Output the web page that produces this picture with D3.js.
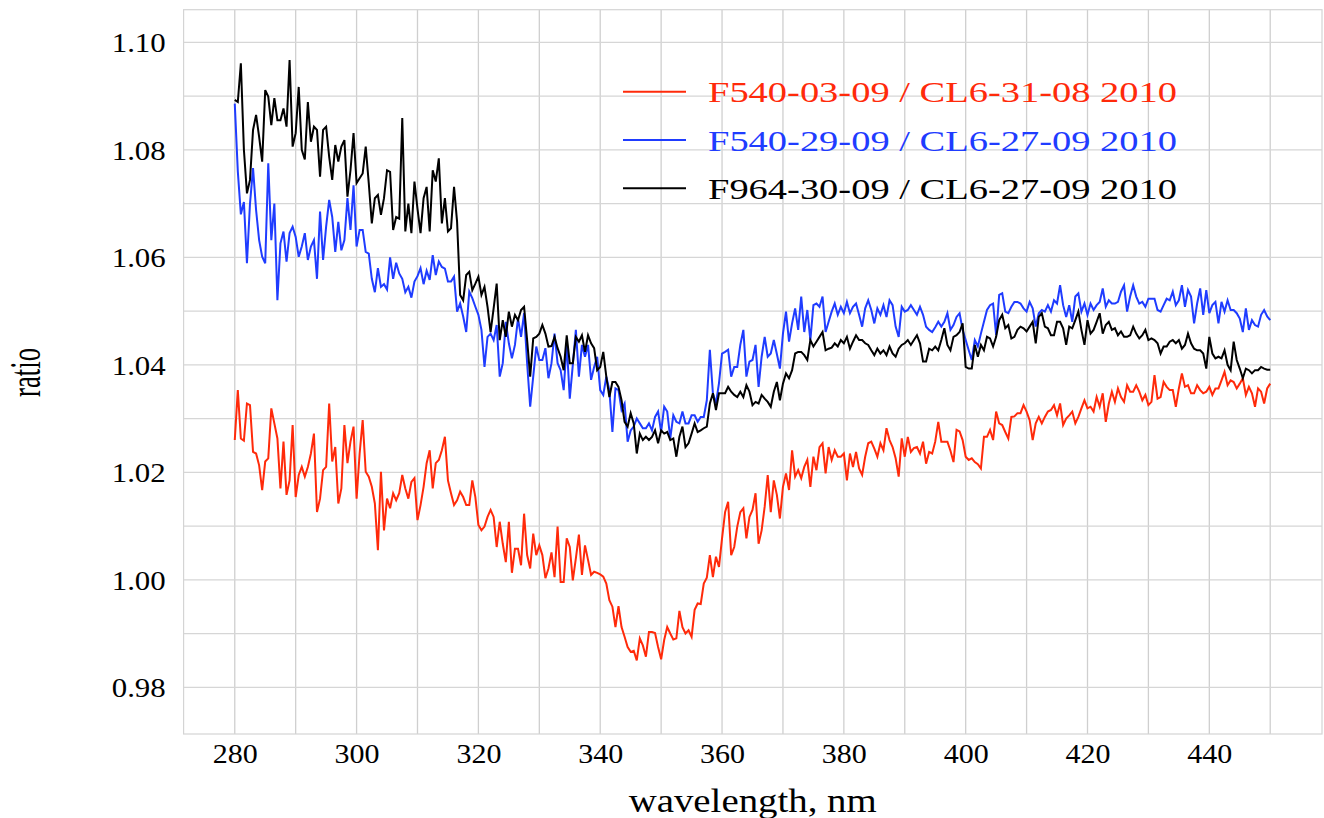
<!DOCTYPE html>
<html>
<head>
<meta charset="utf-8">
<script src="https://cdn.jsdelivr.net/npm/d3@7"></script>
<style>
  body { margin: 0; background: #ffffff; }
  svg { display: block; }
  text { font-family: "Liberation Serif", "Times New Roman", serif; }
</style>
</head>
<body>
<svg id="chart" width="1324" height="818"></svg>
<script>
// Spectral sampling: first wavelength and step, nm
const startNm = 280;
const stepNm = 0.5;

// Ratio F540-03-09 / CL6-31-08 2010
const ratioF540_0309 = [
  1.0260,1.0353,1.0263,1.0259,1.0328,1.0325,1.0238,1.0235,1.0213,1.0167,
  1.0220,1.0226,1.0319,1.0291,1.0263,1.0170,1.0257,1.0158,1.0185,1.0288,
  1.0154,1.0195,1.0210,1.0192,1.0210,1.0235,1.0272,1.0126,1.0151,1.0204,
  1.0210,1.0328,1.0220,1.0247,1.0142,1.0170,1.0288,1.0217,1.0257,1.0285,
  1.0151,1.0235,1.0297,1.0201,1.0192,1.0173,1.0142,1.0055,1.0201,1.0092,
  1.0151,1.0133,1.0161,1.0148,1.0161,1.0195,1.0170,1.0151,1.0182,1.0189,
  1.0111,1.0139,1.0173,1.0217,1.0241,1.0170,1.0217,1.0223,1.0241,1.0266,
  1.0185,1.0161,1.0139,1.0148,1.0164,1.0154,1.0139,1.0139,1.0185,1.0154,
  1.0102,1.0092,1.0099,1.0117,1.0130,1.0117,1.0061,1.0108,1.0067,1.0033,
  1.0108,1.0013,1.0058,1.0058,1.0027,1.0123,1.0046,1.0021,1.0086,1.0046,
  1.0064,1.0046,1.0003,1.0021,1.0051,1.0005,1.0099,0.9996,0.9996,1.0077,
  1.0061,0.9999,1.0040,1.0084,1.0009,1.0064,1.0037,1.0009,1.0015,1.0013,
  1.0010,1.0006,0.9993,0.9962,0.9950,0.9912,0.9951,0.9912,0.9894,0.9875,
  0.9866,0.9868,0.9850,0.9891,0.9878,0.9857,0.9903,0.9903,0.9901,0.9875,
  0.9852,0.9888,0.9912,0.9900,0.9889,0.9891,0.9942,0.9912,0.9900,0.9906,
  0.9894,0.9944,0.9956,0.9955,0.9993,1.0004,1.0046,1.0005,1.0043,1.0024,
  1.0077,1.0126,1.0145,1.0046,1.0061,1.0099,1.0126,1.0133,1.0077,1.0117,
  1.0130,1.0161,1.0067,1.0092,1.0136,1.0195,1.0126,1.0185,1.0158,1.0114,
  1.0173,1.0198,1.0167,1.0241,1.0192,1.0204,1.0189,1.0210,1.0223,1.0173,
  1.0229,1.0204,1.0247,1.0254,1.0198,1.0247,1.0223,1.0241,1.0229,1.0229,
  1.0235,1.0185,1.0235,1.0210,1.0238,1.0207,1.0195,1.0229,1.0254,1.0257,
  1.0244,1.0229,1.0254,1.0241,1.0282,1.0260,1.0247,1.0226,1.0192,1.0263,
  1.0229,1.0266,1.0238,1.0245,1.0247,1.0235,1.0257,1.0216,1.0238,1.0235,
  1.0257,1.0294,1.0257,1.0257,1.0257,1.0240,1.0219,1.0279,1.0276,1.0260,
  1.0229,1.0223,1.0226,1.0219,1.0215,1.0207,1.0266,1.0266,1.0279,1.0260,
  1.0313,1.0291,1.0288,1.0275,1.0263,1.0303,1.0304,1.0310,1.0310,1.0325,
  1.0313,1.0297,1.0260,1.0291,1.0303,1.0291,1.0303,1.0313,1.0316,1.0325,
  1.0306,1.0328,1.0288,1.0300,1.0306,1.0313,1.0291,1.0303,1.0319,1.0334,
  1.0319,1.0322,1.0313,1.0340,1.0322,1.0347,1.0294,1.0328,1.0350,1.0331,
  1.0356,1.0340,1.0331,1.0362,1.0350,1.0350,1.0362,1.0350,1.0334,1.0344,
  1.0325,1.0331,1.0381,1.0337,1.0340,1.0368,1.0359,1.0353,1.0353,1.0322,
  1.0356,1.0384,1.0359,1.0362,1.0347,1.0347,1.0362,1.0353,1.0347,1.0350,
  1.0359,1.0344,1.0356,1.0356,1.0371,1.0387,1.0362,1.0371,1.0368,1.0356,
  1.0365,1.0375,1.0344,1.0359,1.0347,1.0322,1.0356,1.0350,1.0328,1.0356,
  1.0365
];

// Ratio F540-29-09 / CL6-27-09 2010
const ratioF540_2909 = [
  1.0886,1.0760,1.0680,1.0703,1.0589,1.0700,1.0766,1.0688,1.0632,1.0601,
  1.0589,1.0775,1.0632,1.0700,1.0520,1.0626,1.0648,1.0592,1.0645,1.0657,
  1.0638,1.0601,1.0620,1.0645,1.0595,1.0620,1.0632,1.0560,1.0685,1.0595,
  1.0657,1.0707,1.0675,1.0610,1.0666,1.0613,1.0632,1.0710,1.0651,1.0734,
  1.0620,1.0651,1.0651,1.0610,1.0607,1.0560,1.0535,1.0580,1.0545,1.0550,
  1.0540,1.0600,1.0560,1.0590,1.0570,1.0560,1.0535,1.0545,1.0525,1.0555,
  1.0565,1.0580,1.0550,1.0575,1.0558,1.0604,1.0567,1.0592,1.0582,1.0579,
  1.0555,1.0555,1.0564,1.0499,1.0514,1.0490,1.0461,1.0536,1.0524,1.0508,
  1.0493,1.0465,1.0396,1.0452,1.0458,1.0446,1.0474,1.0378,1.0403,1.0480,
  1.0440,1.0412,1.0437,1.0486,1.0452,1.0496,1.0403,1.0322,1.0378,1.0434,
  1.0409,1.0409,1.0431,1.0375,1.0403,1.0458,1.0403,1.0390,1.0353,1.0440,
  1.0337,1.0400,1.0465,1.0378,1.0437,1.0415,1.0437,1.0372,1.0396,1.0415,
  1.0353,1.0344,1.0378,1.0353,1.0275,1.0356,1.0353,1.0316,1.0328,1.0257,
  1.0278,1.0285,1.0300,1.0291,1.0282,1.0282,1.0291,1.0278,1.0303,1.0313,
  1.0275,1.0322,1.0313,1.0263,1.0306,1.0294,1.0291,1.0313,1.0291,1.0291,
  1.0306,1.0306,1.0294,1.0303,1.0303,1.0334,1.0428,1.0347,1.0328,1.0366,
  1.0421,1.0424,1.0428,1.0378,1.0396,1.0396,1.0437,1.0465,1.0378,1.0406,
  1.0409,1.0437,1.0359,1.0415,1.0452,1.0415,1.0421,1.0446,1.0420,1.0393,
  1.0458,1.0499,1.0443,1.0477,1.0505,1.0465,1.0527,1.0461,1.0502,1.0446,
  1.0511,1.0514,1.0508,1.0527,1.0461,1.0480,1.0499,1.0514,1.0493,1.0508,
  1.0496,1.0517,1.0496,1.0508,1.0514,1.0493,1.0471,1.0505,1.0520,1.0502,
  1.0477,1.0505,1.0493,1.0511,1.0489,1.0520,1.0511,1.0471,1.0452,1.0508,
  1.0499,1.0502,1.0511,1.0502,1.0493,1.0508,1.0493,1.0471,1.0465,1.0461,
  1.0470,1.0480,1.0471,1.0480,1.0496,1.0465,1.0474,1.0489,1.0496,1.0465,
  1.0446,1.0427,1.0409,1.0446,1.0434,1.0458,1.0480,1.0502,1.0511,1.0514,
  1.0455,1.0530,1.0533,1.0499,1.0496,1.0508,1.0517,1.0517,1.0514,1.0505,
  1.0499,1.0517,1.0505,1.0471,1.0496,1.0502,1.0499,1.0511,1.0499,1.0520,
  1.0514,1.0548,1.0511,1.0489,1.0511,1.0480,1.0527,1.0533,1.0499,1.0514,
  1.0493,1.0514,1.0502,1.0511,1.0517,1.0542,1.0508,1.0520,1.0514,1.0514,
  1.0517,1.0536,1.0548,1.0499,1.0527,1.0548,1.0527,1.0514,1.0517,1.0508,
  1.0523,1.0523,1.0523,1.0502,1.0499,1.0511,1.0523,1.0520,1.0536,1.0511,
  1.0520,1.0548,1.0508,1.0539,1.0527,1.0477,1.0514,1.0542,1.0493,1.0539,
  1.0496,1.0511,1.0517,1.0477,1.0517,1.0499,1.0520,1.0502,1.0502,1.0496,
  1.0486,1.0461,1.0505,1.0465,1.0483,1.0474,1.0471,1.0493,1.0502,1.0490,
  1.0483
];

// Ratio F964-30-09 / CL6-27-09 2010
const ratioF964_3009 = [
  1.0893,1.0889,1.0961,1.0800,1.0719,1.0744,1.0837,1.0865,1.0824,1.0778,
  1.0911,1.0899,1.0846,1.0896,1.0855,1.0855,1.0877,1.0843,1.0967,1.0806,
  1.0831,1.0917,1.0800,1.0782,1.0889,1.0815,1.0843,1.0837,1.0750,1.0837,
  1.0843,1.0787,1.0744,1.0809,1.0778,1.0806,1.0818,1.0713,1.0762,1.0831,
  1.0738,1.0747,1.0756,1.0806,1.0738,1.0663,1.0710,1.0716,1.0679,1.0710,
  1.0762,1.0759,1.0651,1.0675,1.0672,1.0859,1.0648,1.0700,1.0645,1.0741,
  1.0690,1.0645,1.0710,1.0731,1.0648,1.0762,1.0741,1.0784,1.0663,1.0710,
  1.0648,1.0654,1.0731,1.0666,1.0530,1.0520,1.0567,1.0573,1.0539,1.0551,
  1.0564,1.0530,1.0545,1.0508,1.0461,1.0505,1.0551,1.0446,1.0483,1.0452,
  1.0499,1.0471,1.0493,1.0483,1.0502,1.0508,1.0446,1.0378,1.0449,1.0452,
  1.0458,1.0474,1.0458,1.0434,1.0435,1.0452,1.0431,1.0415,1.0390,1.0455,
  1.0403,1.0403,1.0452,1.0443,1.0455,1.0424,1.0455,1.0440,1.0431,1.0390,
  1.0396,1.0424,1.0378,1.0340,1.0368,1.0368,1.0359,1.0334,1.0294,1.0285,
  1.0310,1.0291,1.0235,1.0272,1.0260,1.0266,1.0260,1.0266,1.0278,1.0254,
  1.0278,1.0272,1.0275,1.0260,1.0263,1.0229,1.0266,1.0285,1.0247,1.0254,
  1.0272,1.0291,1.0275,1.0278,1.0282,1.0285,1.0328,1.0347,1.0316,1.0347,
  1.0347,1.0347,1.0359,1.0350,1.0344,1.0340,1.0350,1.0340,1.0362,1.0350,
  1.0325,1.0331,1.0328,1.0344,1.0337,1.0331,1.0322,1.0350,1.0368,1.0334,
  1.0365,1.0384,1.0375,1.0390,1.0421,1.0424,1.0424,1.0418,1.0409,1.0446,
  1.0434,1.0443,1.0452,1.0461,1.0427,1.0430,1.0432,1.0440,1.0434,1.0446,
  1.0440,1.0452,1.0430,1.0443,1.0455,1.0446,1.0446,1.0440,1.0437,1.0427,
  1.0418,1.0430,1.0421,1.0427,1.0418,1.0434,1.0421,1.0415,1.0430,1.0437,
  1.0440,1.0446,1.0437,1.0446,1.0455,1.0440,1.0406,1.0406,1.0430,1.0427,
  1.0434,1.0427,1.0446,1.0468,1.0437,1.0427,1.0452,1.0455,1.0461,1.0477,
  1.0396,1.0393,1.0393,1.0437,1.0415,1.0437,1.0427,1.0452,1.0449,1.0434,
  1.0452,1.0483,1.0493,1.0468,1.0474,1.0449,1.0452,1.0465,1.0471,1.0468,
  1.0462,1.0471,1.0480,1.0440,1.0489,1.0496,1.0471,1.0468,1.0455,1.0455,
  1.0480,1.0480,1.0468,1.0437,1.0471,1.0468,1.0483,1.0499,1.0465,1.0437,
  1.0483,1.0458,1.0465,1.0480,1.0496,1.0458,1.0474,1.0480,1.0465,1.0468,
  1.0455,1.0462,1.0452,1.0452,1.0455,1.0471,1.0458,1.0449,1.0455,1.0465,
  1.0446,1.0449,1.0446,1.0440,1.0421,1.0434,1.0434,1.0443,1.0446,1.0440,
  1.0446,1.0430,1.0437,1.0458,1.0440,1.0430,1.0427,1.0427,1.0421,1.0393,
  1.0452,1.0421,1.0412,1.0415,1.0412,1.0427,1.0400,1.0390,1.0443,1.0409,
  1.0393,1.0375,1.0393,1.0390,1.0384,1.0390,1.0390,1.0396,1.0393,1.0391,
  1.0391
];

const seriesNames = [
  "F540-03-09 / CL6-31-08 2010",
  "F540-29-09 / CL6-27-09 2010",
  "F964-30-09 / CL6-27-09 2010"
];
const seriesColors = ["#ff2a0a", "#1f3cff", "#000000"];

const xTickValues = [280, 300, 320, 340, 360, 380, 400, 420, 440];
const yTickValues = [0.98, 1.00, 1.02, 1.04, 1.06, 1.08, 1.10];
const xGridValues = [280, 290, 300, 310, 320, 330, 340, 350, 360, 370, 380, 390, 400, 410, 420, 430, 440, 450];
const yGridValues = [0.98, 0.99, 1.00, 1.01, 1.02, 1.03, 1.04, 1.05, 1.06, 1.07, 1.08, 1.09, 1.10];

const series = [ratioF540_0309, ratioF540_2909, ratioF964_3009].map((values, k) => ({
  name: seriesNames[k],
  color: seriesColors[k],
  points: values.map((v, i) => ({ nm: startNm + i * stepNm, r: v }))
}));

// Plot frame
const plot = { left: 183.6, right: 1322, top: 9.7, bottom: 734 };

const svg = d3.select("#chart");

const x = d3.scaleLinear().domain([271.6, 458.5]).range([plot.left, plot.right]);
const y = d3.scaleLinear().domain([0.97131, 1.10607]).range([plot.bottom, plot.top]);

// Grid
const grid = svg.append("g").attr("class", "grid");
grid.selectAll("line.v").data(xGridValues).join("line")
  .attr("class", "v")
  .attr("x1", d => x(d)).attr("x2", d => x(d))
  .attr("y1", plot.top).attr("y2", plot.bottom)
  .attr("stroke", "#cfcfcf").attr("stroke-width", 1.3);
grid.selectAll("line.h").data(yGridValues).join("line")
  .attr("class", "h")
  .attr("x1", plot.left).attr("x2", plot.right)
  .attr("y1", d => y(d)).attr("y2", d => y(d))
  .attr("stroke", "#d6d6d6").attr("stroke-width", 1.2);

svg.append("rect")
  .attr("x", plot.left).attr("y", plot.top)
  .attr("width", plot.right - plot.left).attr("height", plot.bottom - plot.top)
  .attr("fill", "none").attr("stroke", "#d4d4d4").attr("stroke-width", 1.2);

// Axes (labels only)
const xAxis = d3.axisBottom(x).tickValues(xTickValues).tickSize(0).tickFormat(d3.format("d"));
svg.append("g")
  .attr("transform", `translate(0,${plot.bottom})`)
  .call(xAxis)
  .call(g => g.select(".domain").remove())
  .attr("font-family", null).attr("font-size", null)
  .selectAll("text")
    .attr("y", 29.3).attr("dy", null)
    .attr("font-size", 27).attr("fill", "#000")
    .attr("textLength", 45).attr("lengthAdjust", "spacingAndGlyphs");

const yAxis = d3.axisLeft(y).tickValues(yTickValues).tickSize(0).tickFormat(d3.format(".2f"));
svg.append("g")
  .attr("transform", `translate(${plot.left},0)`)
  .call(yAxis)
  .call(g => g.select(".domain").remove())
  .attr("font-family", null).attr("font-size", null)
  .selectAll("text")
    .attr("x", -17.9).attr("y", 9.6).attr("dy", null)
    .attr("font-size", 27).attr("fill", "#000")
    .attr("textLength", 54).attr("lengthAdjust", "spacingAndGlyphs");

// Axis titles
svg.append("text")
  .attr("x", 752.7).attr("y", 812)
  .attr("text-anchor", "middle")
  .attr("font-size", 33)
  .attr("textLength", 248).attr("lengthAdjust", "spacingAndGlyphs")
  .text("wavelength, nm");

svg.append("text")
  .attr("transform", "translate(40,372.5) rotate(-90)")
  .attr("text-anchor", "middle")
  .attr("font-size", 44)
  .attr("textLength", 49).attr("lengthAdjust", "spacingAndGlyphs")
  .text("ratio");

// Data lines
const line = d3.line().x(d => x(d.nm)).y(d => y(d.r));
svg.append("g").attr("class", "lines")
  .selectAll("path").data(series).join("path")
  .attr("d", d => line(d.points))
  .attr("fill", "none")
  .attr("stroke", d => d.color)
  .attr("stroke-width", 2)
  .attr("stroke-linejoin", "miter");

// Legend
const legendRows = [91.7, 140, 188.3];
const legend = svg.append("g").attr("class", "legend");
const rows = legend.selectAll("g").data(series).join("g")
  .attr("transform", (d, i) => `translate(0,${legendRows[i]})`);
rows.append("line")
  .attr("x1", 623).attr("x2", 686).attr("y1", 0).attr("y2", 0)
  .attr("stroke", d => d.color).attr("stroke-width", 2);
rows.append("text")
  .attr("x", 708).attr("y", 10.6)
  .attr("font-size", 30)
  .attr("fill", d => d.color)
  .attr("textLength", 469).attr("lengthAdjust", "spacingAndGlyphs")
  .text(d => d.name);
</script>
</body>
</html>
